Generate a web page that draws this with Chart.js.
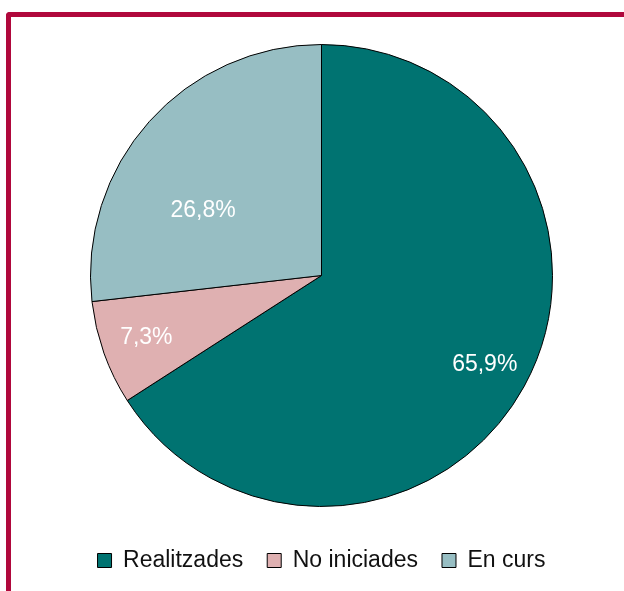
<!DOCTYPE html>
<html lang="ca">
<head>
  <meta charset="UTF-8">
  <title>Actuacions</title>
  <script src="https://cdn.jsdelivr.net/npm/chart.js@4.4.1/dist/chart.umd.min.js"></script>
  <style>
    body {
      margin: 0;
      background: white;
      font-family: "Liberation Sans", Arial, sans-serif;
      overflow: hidden;
    }
    #frame {
      position: absolute;
      left: 6px;
      top: 12px;
      width: 700px;
      height: 700px;
      border-top: 5px solid #b0083c;
      border-left: 5px solid #b0083c;
      border-top-left-radius: 4px;
    }
    #chart-container {
      position: absolute;
      left: 0;
      top: 0;
      width: 624px;
      height: 591px;
    }
  </style>
</head>
<body>

  <div id="frame"></div>
  <div id="chart-container">
    <canvas id="myChart"></canvas>
  </div>

  <script>
    // données
    const categories = ['Realitzades', 'No iniciades', 'En curs'];
    const valeurs = [65.9, 7.3, 26.8];
    const etiquettes = ['65,9%', '7,3%', '26,8%'];
    const couleurs = ['#007371', '#dfb0b1', '#97bec3'];

    // étiquettes blanches dans les parts
    const placement = [
      { r: 0.805, a: 0 },
      { r: 0.805, a: 0 },
      { r: 0.585, a: -13 }
    ];

    const labelsPlugin = {
      id: 'labelsPlugin',
      afterDatasetsDraw(chart) {
        const ctx = chart.ctx;
        const meta = chart.getDatasetMeta(0);
        ctx.save();
        ctx.fillStyle = 'white';
        ctx.font = '23px "Liberation Sans", Arial, sans-serif';
        ctx.textAlign = 'center';
        ctx.textBaseline = 'middle';
        meta.data.forEach((arc, i) => {
          const p = arc.getProps(['x', 'y', 'startAngle', 'endAngle', 'outerRadius'], true);
          const ang = (p.startAngle + p.endAngle) / 2 + placement[i].a * Math.PI / 180;
          const r = p.outerRadius * placement[i].r;
          ctx.fillText(etiquettes[i], p.x + Math.cos(ang) * r, p.y + Math.sin(ang) * r);
        });
        ctx.restore();
      }
    };

    const ctx = document.getElementById('myChart').getContext('2d');
    new Chart(ctx, {
      type: 'pie',
      data: {
        labels: categories,
        datasets: [{
          data: valeurs,
          backgroundColor: couleurs,
          borderColor: '#000',
          borderWidth: 1,
          radius: 231
        }]
      },
      options: {
        responsive: true,
        maintainAspectRatio: false,
        animation: false,
        layout: { padding: { left: 19, right: 0, top: 26, bottom: 9 } },
        plugins: {
          legend: {
            position: 'bottom',
            labels: {
              boxWidth: 14,
              boxHeight: 14,
              padding: 24,
              color: '#111',
              font: { size: 23, family: '"Liberation Sans", Arial, sans-serif' },
              generateLabels(chart) {
                return categories.map((c, i) => ({
                  text: c,
                  fillStyle: couleurs[i],
                  strokeStyle: '#000',
                  lineWidth: 1,
                  fontColor: '#111',
                  index: i
                }));
              }
            }
          },
          tooltip: { enabled: false }
        }
      },
      plugins: [labelsPlugin]
    });
  </script>

</body>
</html>
